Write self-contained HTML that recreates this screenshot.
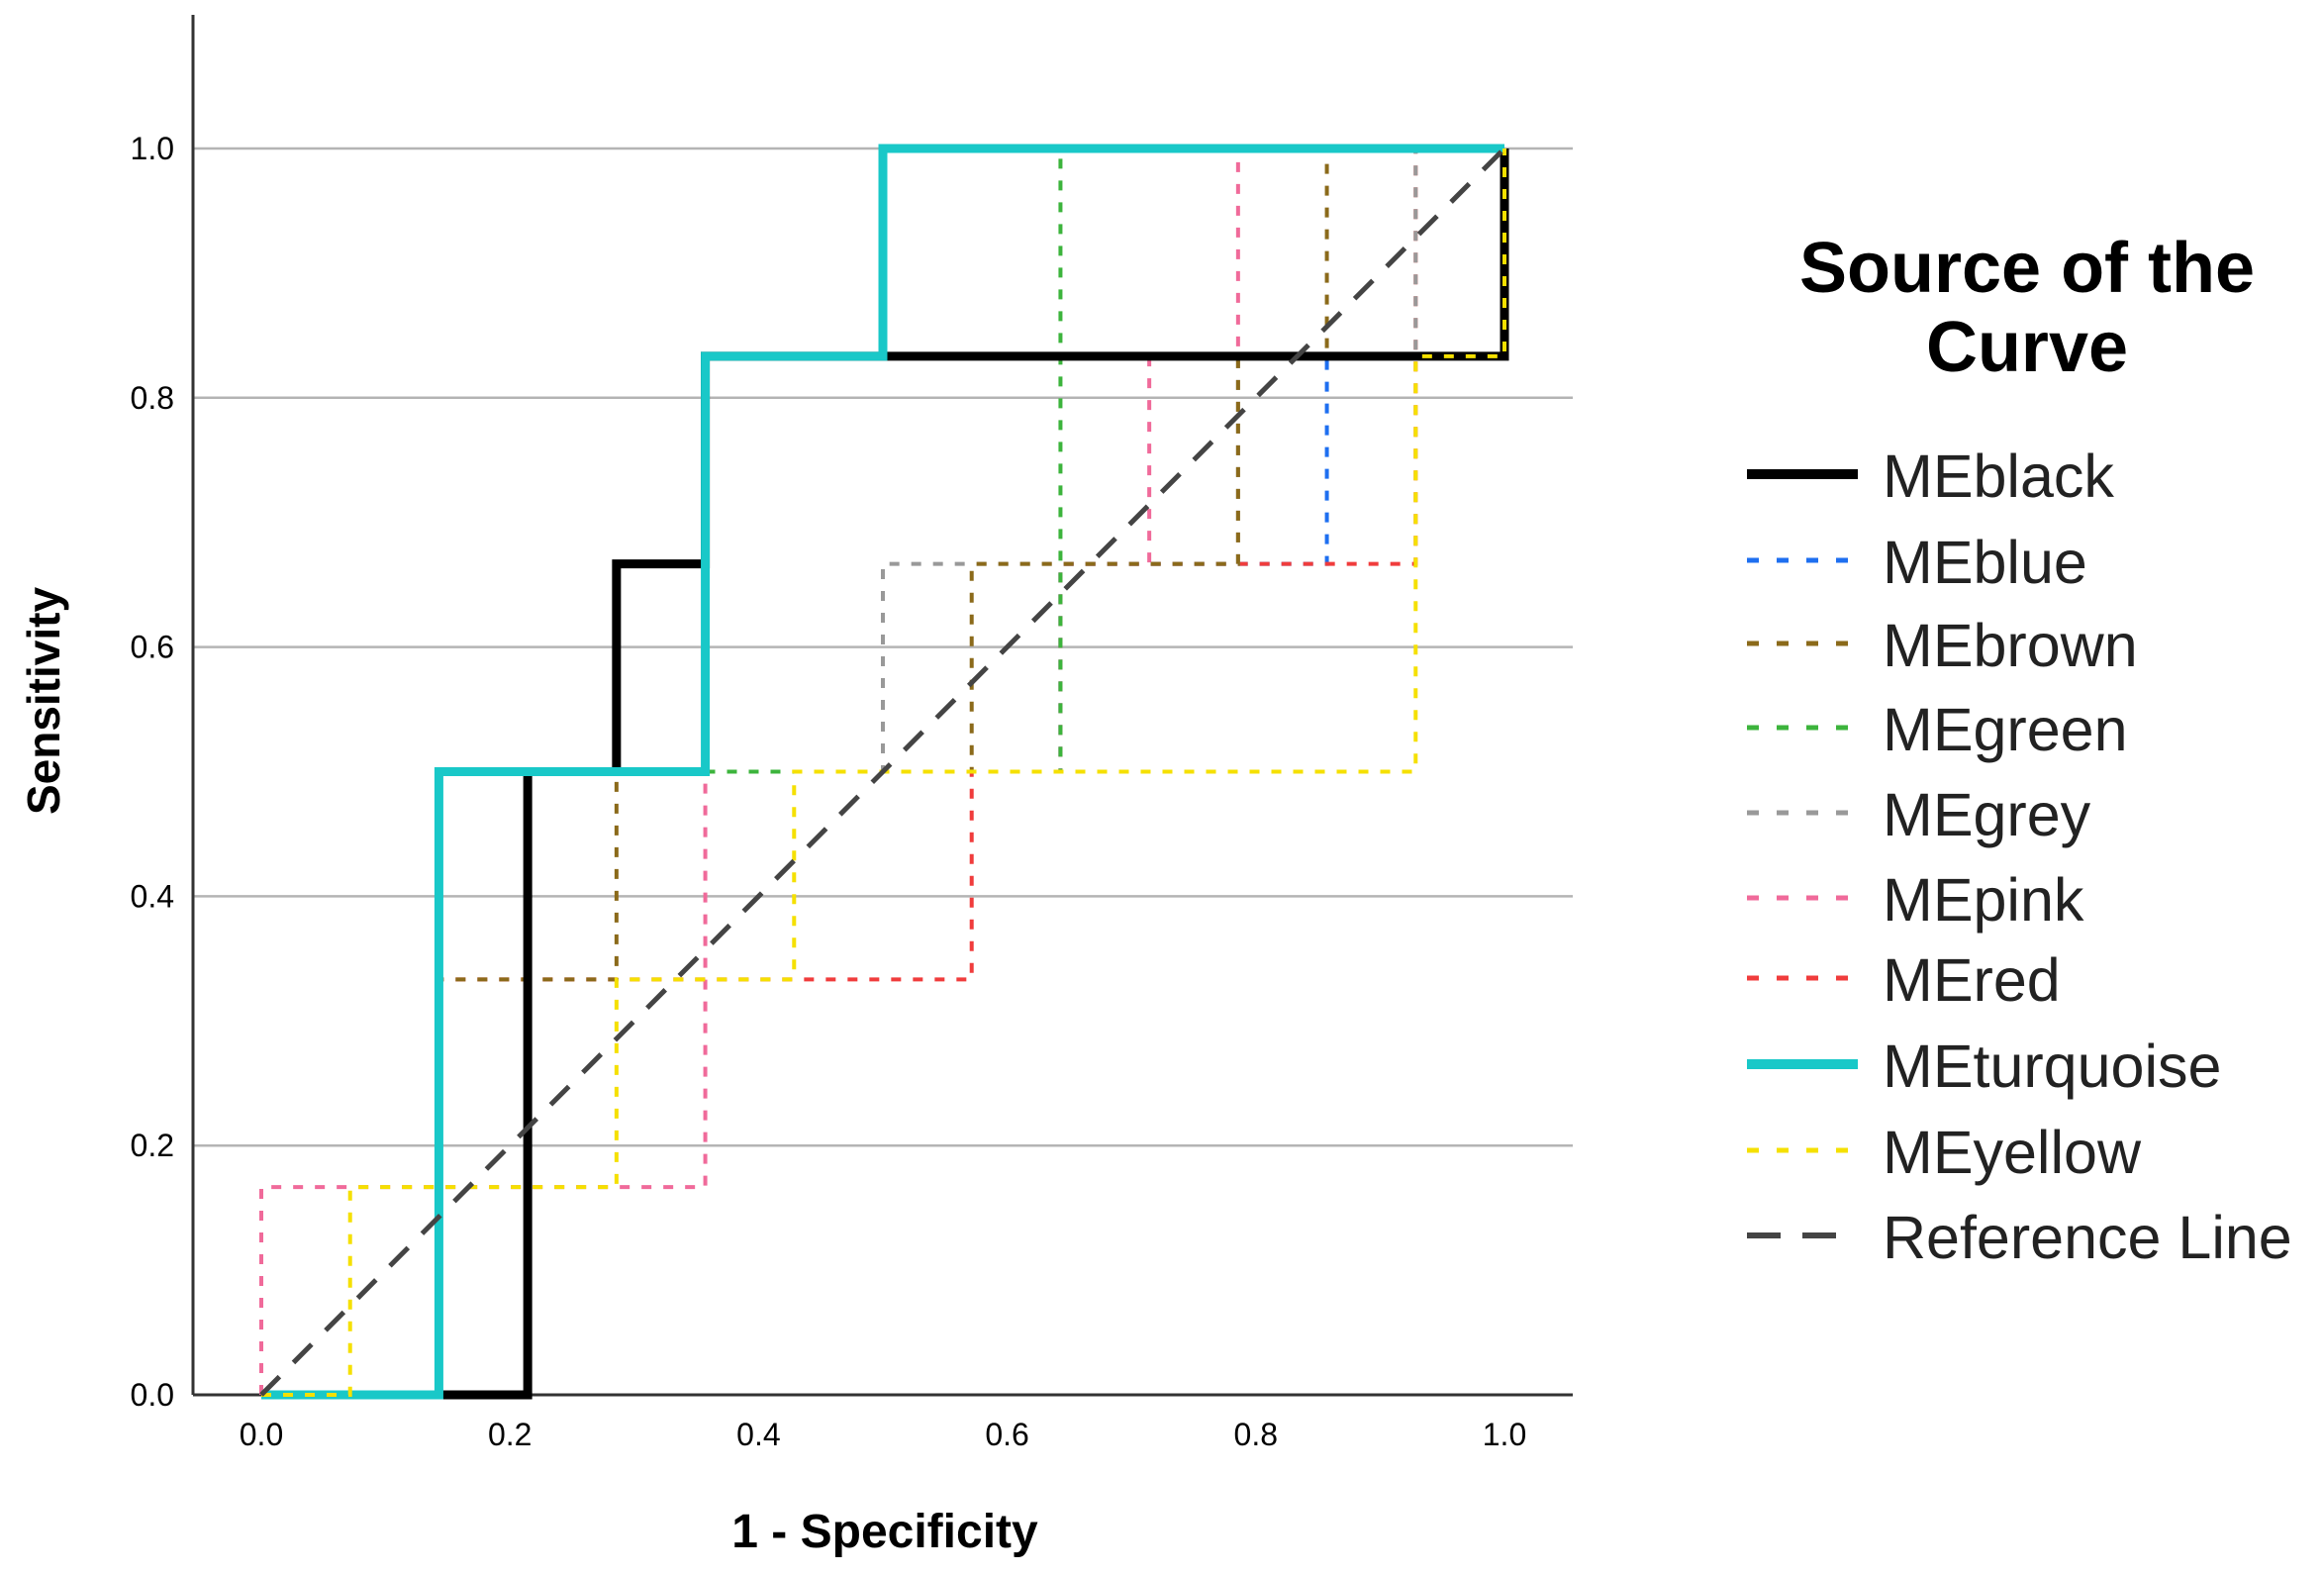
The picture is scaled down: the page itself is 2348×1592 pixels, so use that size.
<!DOCTYPE html>
<html><head><meta charset="utf-8"><style>
html,body{margin:0;padding:0;background:#fff;}
svg{display:block;font-family:"Liberation Sans",sans-serif;}
</style></head><body>
<svg id="chart" width="2348" height="1592" viewBox="0 0 2348 1592" xmlns="http://www.w3.org/2000/svg">
<g id="grid"></g>
<g id="axes"></g>
<g id="series"></g>
<text x="0" y="0" transform="translate(60,708) rotate(-90)" text-anchor="middle" font-size="46" font-weight="bold">Sensitivity</text>
<text x="894" y="1563" text-anchor="middle" font-size="48" font-weight="bold">1 - Specificity</text>
<text x="2048" y="295" text-anchor="middle" font-size="72" font-weight="bold">Source of the</text>
<text x="2048" y="375" text-anchor="middle" font-size="72" font-weight="bold">Curve</text>
<g id="legend"></g>
</svg>
<script>
const xTicks=[0,0.2,0.4,0.6,0.8,1.0];
const yTicks=[0,0.2,0.4,0.6,0.8,1.0];
const seriesNames=["MEblack","MEblue","MEbrown","MEgreen","MEgrey","MEpink","MEred","MEturquoise","MEyellow"];
const seriesColors=["#000000","#1e6ff0","#8b6a1a","#3cb43c","#999999","#f06a9a","#f03c3c","#19c8c8","#f5e000"];
// points as [fpr in 14ths, tpr in 6ths]
const blackPts=[[0,0],[3,0],[3,3],[4,3],[4,4],[5,4],[5,5],[14,5],[14,6]];
const bluePts=[[0,0],[3,0],[3,3],[9,3],[9,4],[12,4],[12,5],[14,5],[14,6]];
const brownPts=[[0,0],[2,0],[2,2],[4,2],[4,3],[8,3],[8,4],[11,4],[11,5],[12,5],[12,6],[14,6]];
const greenPts=[[0,0],[3,0],[3,3],[9,3],[9,6],[14,6]];
const greyPts=[[0,0],[3,0],[3,3],[7,3],[7,4],[11,4],[11,5],[13,5],[13,6],[14,6]];
const pinkPts=[[0,0],[0,1],[5,1],[5,3],[9,3],[9,4],[10,4],[10,5],[11,5],[11,6],[14,6]];
const redPts=[[0,0],[2,0],[2,2],[8,2],[8,3],[9,3],[9,4],[13,4],[13,6],[14,6]];
const turquoisePts=[[0,0],[2,0],[2,3],[5,3],[5,5],[7,5],[7,6],[14,6]];
const yellowPts=[[0,0],[1,0],[1,1],[4,1],[4,2],[6,2],[6,3],[13,3],[13,5],[14,5],[14,6]];
const allPts=[blackPts,bluePts,brownPts,greenPts,greyPts,pinkPts,redPts,turquoisePts,yellowPts];
const NS="http://www.w3.org/2000/svg";
function X(v){return 264+v*1256;}
function Y(v){return 1409-v*1259;}
function mk(tag,attrs,parent){const e=document.createElementNS(NS,tag);for(const k in attrs)e.setAttribute(k,attrs[k]);parent.appendChild(e);return e;}
const grid=document.getElementById('grid'),axes=document.getElementById('axes'),ser=document.getElementById('series'),leg=document.getElementById('legend');
yTicks.forEach((t,i)=>{
 if(t>0){const l=mk('line',{x1:195,x2:1589,y1:Y(t),y2:Y(t),stroke:'#b4b4b4','stroke-width':2.5},grid);
 
 }
 const tx=mk('text',{x:176,y:Y(t)+11,'text-anchor':'end','font-size':32},axes);tx.textContent=t.toFixed(1);
 
 
});
xTicks.forEach(t=>{
 const tx=mk('text',{x:X(t),y:1460,'text-anchor':'middle','font-size':32},axes);tx.textContent=t.toFixed(1);
 
 
});
const ya=mk('line',{x1:195,x2:195,y1:15,y2:1409,stroke:'#333','stroke-width':3},axes);


const xa=mk('line',{x1:195,x2:1589,y1:1409,y2:1409,stroke:'#333','stroke-width':3},axes);


function pathOf(pts){return pts.map((p,i)=>(i?'L':'M')+X(p[0]/14)+' '+Y(p[1]/6)).join(' ');}
const order=[1,6,5,4,2,3,0,7,8];
order.forEach(i=>{
 const thick=(i===0||i===7);
 const p=mk('path',{d:pathOf(allPts[i]),fill:'none',stroke:seriesColors[i],'stroke-width':thick?9:4,'stroke-dasharray':thick?'none':'10 12'},ser);
 
 
});
const ref=mk('line',{x1:X(0),y1:Y(0),x2:X(1),y2:Y(1),stroke:'#444','stroke-width':5,'stroke-dasharray':'26 20'},ser);


const legNames=seriesNames.concat(["Reference Line"]);
const legYs=[481,568,652,737,823,909,990,1077,1164,1250];
legNames.forEach((n,i)=>{
 const g=mk('g',{},leg);
 
 
 let col,w,dash;
 if(i<9){col=seriesColors[i];const th=(i===0||i===7);w=th?10:5;dash=th?'none':'12 18';}
 else{col='#444';w=6;dash='34 22';}
 mk('line',{x1:1765,x2:1877,y1:legYs[i]-2,y2:legYs[i]-2,stroke:col,'stroke-width':w,'stroke-dasharray':dash},g);
 const t=mk('text',{x:1902,y:legYs[i]+21,'font-size':61,fill:'#222'},g);t.textContent=n;
});
</script>
</body></html>
